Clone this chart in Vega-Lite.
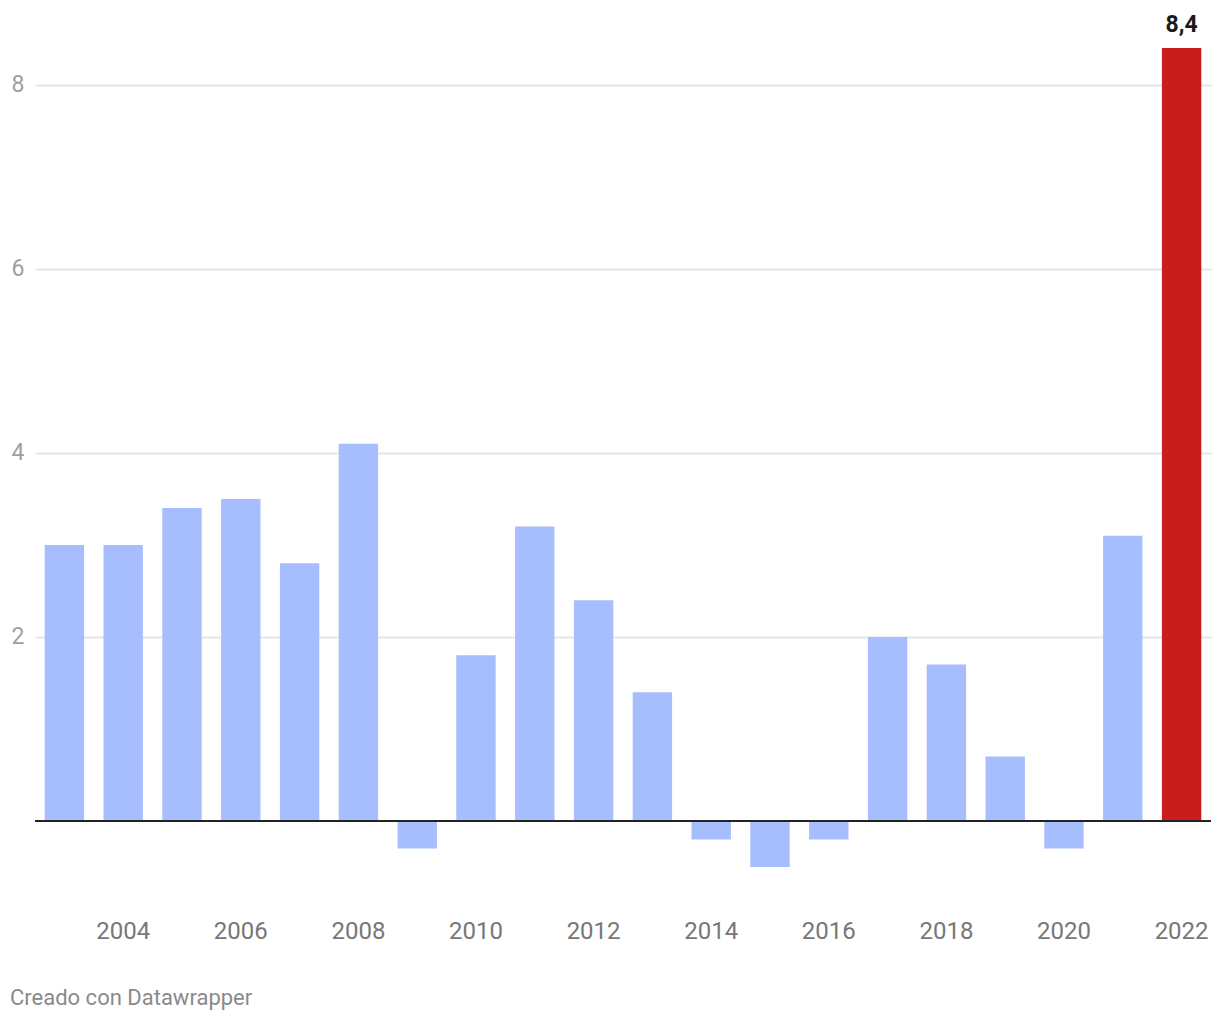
{
  "$schema": "https://vega.github.io/schema/vega-lite/v6.json",
  "autosize": {"type": "none"},
  "width": 1176,
  "height": 865,
  "padding": {"left": 35, "top": 48, "right": 9, "bottom": 107},
  "background": "white",
  "config": {
    "font": "Roboto",
    "view": {"stroke": null},
    "locale": {"number": {"decimal": ",", "thousands": ".", "grouping": [3], "currency": ["", " €"]}}
  },
  "title": {
    "text": "Creado con Datawrapper",
    "orient": "bottom",
    "anchor": "start",
    "frame": "group",
    "dx": -25,
    "offset": 45,
    "fontSize": 22,
    "fontWeight": "normal",
    "color": "#8a8a8a",
    "font": "Roboto"
  },
  "data": {
    "values": [
      {"year": 2003, "value": 3.0},
      {"year": 2004, "value": 3.0},
      {"year": 2005, "value": 3.4},
      {"year": 2006, "value": 3.5},
      {"year": 2007, "value": 2.8},
      {"year": 2008, "value": 4.1},
      {"year": 2009, "value": -0.3},
      {"year": 2010, "value": 1.8},
      {"year": 2011, "value": 3.2},
      {"year": 2012, "value": 2.4},
      {"year": 2013, "value": 1.4},
      {"year": 2014, "value": -0.2},
      {"year": 2015, "value": -0.5},
      {"year": 2016, "value": -0.2},
      {"year": 2017, "value": 2.0},
      {"year": 2018, "value": 1.7},
      {"year": 2019, "value": 0.7},
      {"year": 2020, "value": -0.3},
      {"year": 2021, "value": 3.1},
      {"year": 2022, "value": 8.4}
    ]
  },
  "encoding": {
    "x": {
      "field": "year",
      "type": "ordinal",
      "scale": {"paddingInner": 0.33, "paddingOuter": 0.165},
      "axis": {
        "title": null,
        "values": [2004, 2006, 2008, 2010, 2012, 2014, 2016, 2018, 2020, 2022],
        "labelAngle": 0,
        "ticks": false,
        "domain": false,
        "labelFontSize": 24,
        "labelColor": "#777777",
        "labelPadding": 6,
        "labelFont": "Roboto"
      }
    },
    "y": {
      "field": "value",
      "type": "quantitative",
      "scale": {"domain": [-1, 8.4], "nice": false, "zero": false},
      "axis": {
        "title": null,
        "values": [2, 4, 6, 8],
        "ticks": false,
        "domain": false,
        "labelFontSize": 23,
        "labelColor": "#a0a0a0",
        "labelPadding": 11,
        "labelFont": "Roboto",
        "gridColor": "#e5e5e5",
        "gridWidth": 2
      }
    }
  },
  "layer": [
    {
      "mark": {"type": "bar"},
      "encoding": {
        "color": {
          "condition": {"test": "datum.year == 2022", "value": "#c91d1d"},
          "value": "#a7befe"
        }
      }
    },
    {
      "mark": {"type": "rule", "color": "#222222", "strokeWidth": 2},
      "encoding": {"y": {"datum": 0}, "x": null}
    },
    {
      "transform": [{"filter": "datum.year == 2022"}],
      "mark": {"type": "text", "baseline": "alphabetic", "dy": -16, "fontSize": 23, "fontWeight": "bold", "color": "#1a1a1a", "font": "Roboto"},
      "encoding": {
        "text": {"field": "value", "type": "quantitative", "format": ".1f"}
      }
    }
  ]
}
